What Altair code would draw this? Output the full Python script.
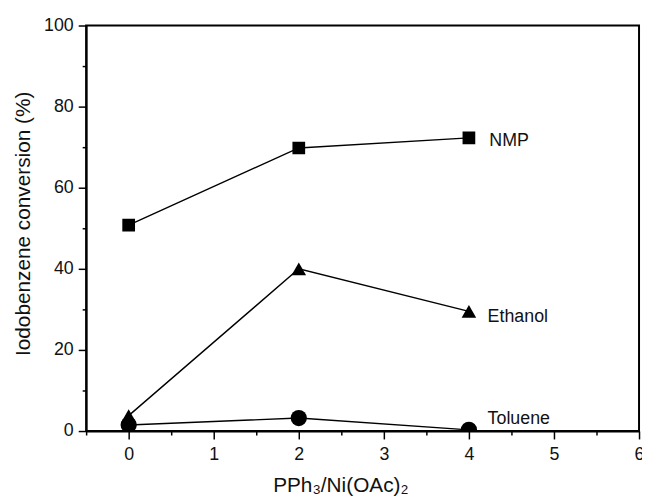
import altair as alt
import pandas as pd

# --- data ---
ratio = [0, 2, 4]
nmp = [50.8, 69.8, 72.3]
ethanol = [3.8, 40.0, 29.5]
toluene = [1.5, 3.2, 0.3]
series_names = ["NMP", "Ethanol", "Toluene"]
series_shapes = ["square", "triangle-up", "circle"]
series_sizes = [165, 270, 160]
label_x = [4.24, 4.22, 4.22]
label_y = [71.5, 28.0, 3.0]
x_ticks = [-0.5, 0, 0.5, 1, 1.5, 2, 2.5, 3, 3.5, 4, 4.5, 5, 5.5, 6]
y_ticks = [0, 10, 20, 30, 40, 50, 60, 70, 80, 90, 100]

rows = []
for name, vals in zip(series_names, [nmp, ethanol, toluene]):
    for xv, v in zip(ratio, vals):
        rows.append({"ratio": xv, "conv": v, "solvent": name})
df = pd.DataFrame(rows)
labels = pd.DataFrame({"solvent": series_names, "lx": label_x, "ly": label_y})

FONT = "Liberation Sans"
TXT = "#111111"

xscale = alt.Scale(domain=[-0.5, 6], nice=False, zero=False)
yscale = alt.Scale(domain=[0, 100], nice=False, zero=False)

xaxis = alt.Axis(
    values=x_ticks, tickCount=40, labelOverlap=False,
    title="PPh₃/Ni(OAc)₂",
    labelExpr="datum.value % 1 === 0 ? format(datum.value, 'd') : ''",
    tickSize={"condition": {"test": "datum.value % 1 === 0", "value": 8}, "value": 4},
    grid=False, domainColor="black", domainWidth=2,
    tickColor="black", tickWidth=1.5,
    labelFontSize=18, titleFontSize=21, labelColor=TXT, titleColor=TXT,
    labelFont=FONT, titleFont=FONT, titleFontWeight="normal",
    labelPadding=7, labelFlush=False,
    titleX=257, titleY=61, titleBaseline="alphabetic",
)
yaxis = alt.Axis(
    values=y_ticks, tickCount=40, labelOverlap=False,
    title="Iodobenzene conversion (%)",
    labelExpr="datum.value % 20 === 0 ? format(datum.value, 'd') : ''",
    tickSize={"condition": {"test": "datum.value % 20 === 0", "value": 8}, "value": 4},
    grid=False, domainColor="black", domainWidth=2,
    tickColor="black", tickWidth=1.5,
    labelFontSize=18, titleFontSize=21, labelColor=TXT, titleColor=TXT,
    labelFont=FONT, titleFont=FONT, titleFontWeight="normal",
    labelPadding=5, labelFlush=False,
    titleX=-57, titleY=200, titleBaseline="alphabetic",
)

base = alt.Chart(df).encode(
    x=alt.X("ratio:Q", scale=xscale, axis=xaxis),
    y=alt.Y("conv:Q", scale=yscale, axis=yaxis),
)

lines = base.mark_line(color="black", strokeWidth=1.4).encode(
    detail="solvent:N"
)
points = base.mark_point(filled=True, color="black", opacity=1, clip=True).encode(
    shape=alt.Shape("solvent:N",
                    scale=alt.Scale(domain=series_names, range=series_shapes),
                    legend=None),
    size=alt.Size("solvent:N",
                  scale=alt.Scale(domain=series_names, range=series_sizes),
                  legend=None),
)
texts = alt.Chart(labels).mark_text(
    align="left", baseline="middle", fontSize=18, font=FONT, color=TXT
).encode(
    x=alt.X("lx:Q", scale=xscale),
    y=alt.Y("ly:Q", scale=yscale),
    text="solvent:N",
)

chart = alt.layer(lines, points, texts).properties(
    width=559, height=410,
    padding={"left": 79, "top": 15, "right": 3, "bottom": 66},
    autosize=alt.AutoSizeParams(type="none"),
).configure_view(stroke="black", strokeWidth=2)

chart.save("out.html", embed_options={"renderer": "svg", "actions": False})
